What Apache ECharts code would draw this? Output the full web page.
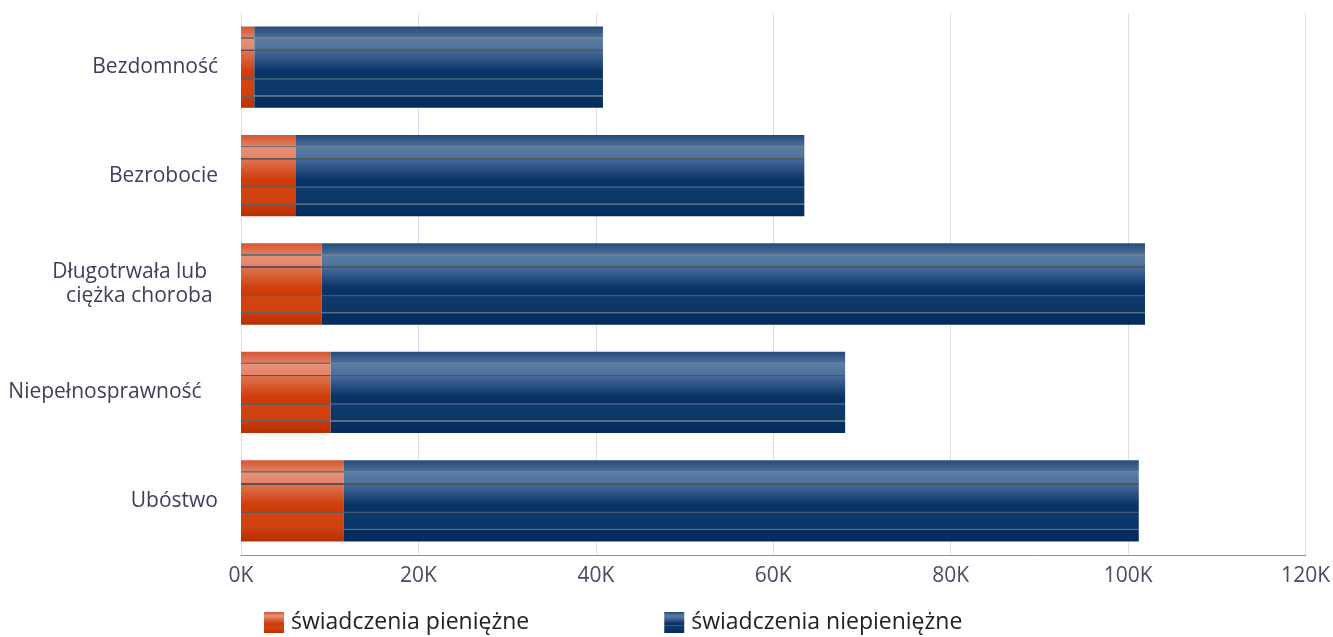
<!DOCTYPE html>
<html><head><meta charset="utf-8">
<script src="https://cdn.jsdelivr.net/npm/echarts@6/dist/echarts.min.js"></script>
<style>html,body{margin:0;padding:0;background:#fff}#c{width:1333px;height:637px}</style>
</head><body><div id="c"></div>
<script>
var categories = ['Bezdomność', 'Bezrobocie', 'Długotrwała lub  \nciężka choroba ', 'Niepełnosprawność   ', 'Ubóstwo'];
var cashValues = [1.5, 6.2, 9.1, 10.1, 11.6];
var nonCashValues = [39.3, 57.3, 92.8, 58.0, 89.6];
var xTicks = [0, 20, 40, 60, 80, 100, 120];
var seriesNames = ['świadczenia pieniężne', 'świadczenia niepieniężne'];

function grad(stops) {
  return new echarts.graphic.LinearGradient(0, 0, 0, 1, stops.map(function (s) { return { offset: s[0], color: s[1] }; }));
}
var orange = grad([
  [0, '#d45530'], [0.13, '#e07e60'], [0.135, '#707070'], [0.15, '#707070'], [0.155, '#e8907a'],
  [0.28, '#e48468'], [0.285, '#5c5050'], [0.30, '#5c5050'], [0.305, '#de7250'],
  [0.55, '#cf3e0a'], [0.63, '#cd3c08'], [0.635, '#6a5a55'], [0.65, '#6a5a55'], [0.655, '#d24410'],
  [0.84, '#d0400c'], [0.845, '#6a6060'], [0.86, '#6a6060'], [0.865, '#c93a08'], [1, '#b83000']
]);
var blue = grad([
  [0, '#264a78'], [0.13, '#4a6e98'], [0.135, '#6c8098'], [0.15, '#6c8098'], [0.155, '#587ca4'],
  [0.28, '#4f729c'], [0.285, '#4c5660'], [0.30, '#4c5660'], [0.305, '#46699a'],
  [0.55, '#0a3466'], [0.63, '#083264'], [0.635, '#3c5878'], [0.65, '#3c5878'], [0.655, '#0e3a6c'],
  [0.84, '#0c3668'], [0.845, '#5a6e84'], [0.86, '#5a6e84'], [0.865, '#073060'], [1, '#022c5c']
]);

var chart = echarts.init(document.getElementById('c'));
chart.setOption({
  animation: false,
  textStyle: { fontFamily: 'Open Sans' },
  grid: { left: 241, right: 27, top: 13, bottom: 82 },
  legend: {
    left: 264, top: 611, padding: 0, itemWidth: 20, itemHeight: 21, itemGap: 135, icon: 'rect',
    textStyle: { fontSize: 23, color: '#222', fontFamily: 'Open Sans', padding: [0, 0, 0, 2] },
    data: seriesNames
  },
  xAxis: {
    type: 'value', min: 0, max: 120, interval: 20,
    axisLine: { show: true, lineStyle: { color: '#8e8ea4', width: 1 } },
    axisTick: { show: false },
    splitLine: { lineStyle: { color: '#dcdcec' } },
    axisLabel: { fontSize: 21, color: '#4a4a62', margin: 11, formatter: function (v) { return v + 'K'; } }
  },
  yAxis: {
    type: 'category', inverse: true, data: categories,
    axisLine: { show: false }, axisTick: { show: false },
    axisLabel: { fontSize: 21, color: '#3e3e5c', margin: 23, lineHeight: 24 }
  },
  series: [
    { name: seriesNames[0], type: 'bar', stack: 's', barCategoryGap: '25%', data: cashValues, itemStyle: { color: orange } },
    { name: seriesNames[1], type: 'bar', stack: 's', barCategoryGap: '25%', data: nonCashValues, itemStyle: { color: blue } }
  ]
});
</script></body></html>
